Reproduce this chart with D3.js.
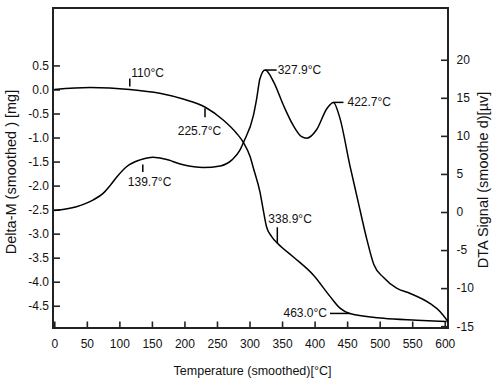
<!DOCTYPE html>
<html>
<head>
<meta charset="utf-8">
<script src="https://cdn.jsdelivr.net/npm/d3@7"></script>
<style>
  body { margin: 0; background: #fff; }
  svg text { font-family: "Liberation Sans", Arial, sans-serif; fill: #111; }
</style>
</head>
<body>
<div id="chart"></div>
<script>
// TG curve (left axis, mg)
var tgTemp = [0, 55, 116, 162, 198, 232, 260, 280, 291, 301, 306, 316, 321, 326, 334, 343, 367, 398, 424, 439, 454, 506, 557, 603];
var tgMass = [0.0, 0.04, 0.0, -0.08, -0.2, -0.37, -0.64, -0.91, -1.11, -1.4, -1.64, -2.13, -2.5, -2.85, -3.06, -3.2, -3.48, -3.86, -4.31, -4.55, -4.66, -4.76, -4.8, -4.83];

// DTA curve (right axis, µV)
var dtaTemp = [0, 34, 60, 75, 86, 96, 111, 132, 152, 170, 198, 229, 255, 273, 285, 291, 306, 311, 316, 324, 337, 352, 367, 380, 388, 403, 419, 429, 439, 454, 466, 480, 491, 506, 526, 547, 577, 593, 605];
var dtaSignal = [0.2, 0.7, 1.6, 2.45, 3.5, 4.6, 5.95, 6.85, 7.2, 6.95, 6.2, 5.85, 6.05, 6.85, 8.1, 9.2, 12.7, 14.9, 17.5, 18.65, 17.1, 14.05, 11.4, 9.9, 9.7, 10.8, 13.6, 14.4, 12.3, 6.2, 1.7, -3.5, -6.9, -8.6, -10.0, -10.7, -12.0, -13.1, -14.4];

// tick values
var xTicks = [0, 50, 100, 150, 200, 250, 300, 350, 400, 450, 500, 550, 600];
var leftTicks = [0.5, 0, -0.5, -1, -1.5, -2, -2.5, -3, -3.5, -4, -4.5];
var rightTicks = [20, 15, 10, 5, 0, -5, -10, -15];

// annotations: label, temperature, value, which curve
var noteLabels = ["110\u00b0C", "225.7\u00b0C", "139.7\u00b0C", "327.9\u00b0C", "422.7\u00b0C", "338.9\u00b0C", "463.0\u00b0C"];
var noteTemps = [116, 231.6, 136, 324, 429, 342.7, 454.4];
var noteValues = [0.0, -0.37, 6.9, 18.65, 14.4, -3.2, -4.66];
var noteSeries = ["tg", "tg", "dta", "dta", "dta", "tg", "tg"];

var width = 500, height = 379;
var plotL = 53, plotR = 448, plotT = 8, plotB = 328;

var svg = d3.select("#chart").append("svg")
    .attr("width", width)
    .attr("height", height);

var x = d3.scaleLinear().domain([-2, 605]).range([plotL, plotR]);
var yL = d3.scaleLinear().domain([-4.963, 1.695]).range([plotB, plotT]);
var yR = d3.scaleLinear().domain([-15.24, 26.8]).range([plotB, plotT]);

// axes
var xAxis = svg.append("g")
    .attr("transform", "translate(0," + plotB + ")")
    .call(d3.axisBottom(x).tickValues(xTicks).tickSizeInner(-6.5).tickSizeOuter(0).tickPadding(11.5));

var lAxis = svg.append("g")
    .attr("transform", "translate(" + plotL + ",0)")
    .call(d3.axisLeft(yL).tickValues(leftTicks).tickSizeInner(-7).tickSizeOuter(0).tickPadding(4)
        .tickFormat(function(d) { return d.toFixed(1); }));

var rAxis = svg.append("g")
    .attr("transform", "translate(" + plotR + ",0)")
    .call(d3.axisRight(yR).tickValues(rightTicks).tickSizeInner(-7).tickSizeOuter(0).tickPadding(8.5)
        .tickFormat(function(d) { return String(d); }));

[xAxis, lAxis, rAxis].forEach(function(g) {
    g.select(".domain").remove();
    g.selectAll(".tick line").attr("stroke", "#222").attr("stroke-width", 1.6);
    g.selectAll(".tick text").style("font-size", "12px").attr("fill", "#111");
});

// frame
svg.append("rect")
    .attr("x", plotL).attr("y", plotT)
    .attr("width", plotR - plotL).attr("height", plotB - plotT)
    .attr("fill", "none")
    .attr("stroke", "#222")
    .attr("stroke-width", 2);

// curves
var tgLine = d3.line()
    .x(function(d, i) { return x(tgTemp[i]); })
    .y(function(d) { return yL(d); })
    .curve(d3.curveMonotoneX);

var dtaLine = d3.line()
    .x(function(d, i) { return x(dtaTemp[i]); })
    .y(function(d) { return yR(d); })
    .curve(d3.curveMonotoneX);

svg.append("path")
    .attr("d", tgLine(tgMass))
    .attr("fill", "none")
    .attr("stroke", "#000")
    .attr("stroke-width", 1.5);

svg.append("path")
    .attr("d", dtaLine(dtaSignal))
    .attr("fill", "none")
    .attr("stroke", "#000")
    .attr("stroke-width", 1.5);

// annotation layout: marker line [x1,y1,x2,y2] and text offset, relative to anchor
var noteLayout = [
    { line: [0, -3, 0, -11], text: [1.5, -12.5], anchor: "start" },
    { line: [0, 1, 0, 10], text: [-27.3, 27.8], anchor: "start" },
    { line: [0, 5, 0, 12.5], text: [-15, 27], anchor: "start" },
    { line: [0, 0, 11.5, 0], text: [12.5, 3.8], anchor: "start" },
    { line: [0, 0, 10, 0], text: [14, 4], anchor: "start" },
    { line: [0, 0, 0, -16], text: [-9, -20], anchor: "start" },
    { line: [0, 0, -20, 0], text: [-23, 4], anchor: "end" }
];

noteLabels.forEach(function(label, i) {
    var cx = x(noteTemps[i]);
    var cy = noteSeries[i] === "tg" ? yL(noteValues[i]) : yR(noteValues[i]);
    var lay = noteLayout[i];
    svg.append("line")
        .attr("x1", cx + lay.line[0]).attr("y1", cy + lay.line[1])
        .attr("x2", cx + lay.line[2]).attr("y2", cy + lay.line[3])
        .attr("stroke", "#000")
        .attr("stroke-width", 1.5);
    svg.append("text")
        .attr("x", cx + lay.text[0])
        .attr("y", cy + lay.text[1])
        .attr("text-anchor", lay.anchor)
        .style("font-size", "12px")
        .text(label);
});

// axis titles
svg.append("text")
    .attr("x", (plotL + plotR) / 2 + 2)
    .attr("y", 375)
    .attr("text-anchor", "middle")
    .style("font-size", "12.5px")
    .text("Temperature (smoothed)[\u00b0C]");

svg.append("text")
    .attr("transform", "translate(16,172) rotate(-90)")
    .attr("text-anchor", "middle")
    .style("font-size", "14.5px")
    .text("Delta-M (smoothed ) [mg]");

svg.append("text")
    .attr("transform", "translate(487.5,180) rotate(-90)")
    .attr("text-anchor", "middle")
    .style("font-size", "14.5px")
    .text("DTA Signal (smoothe d)[\u00b5v]");
</script>
</body>
</html>
